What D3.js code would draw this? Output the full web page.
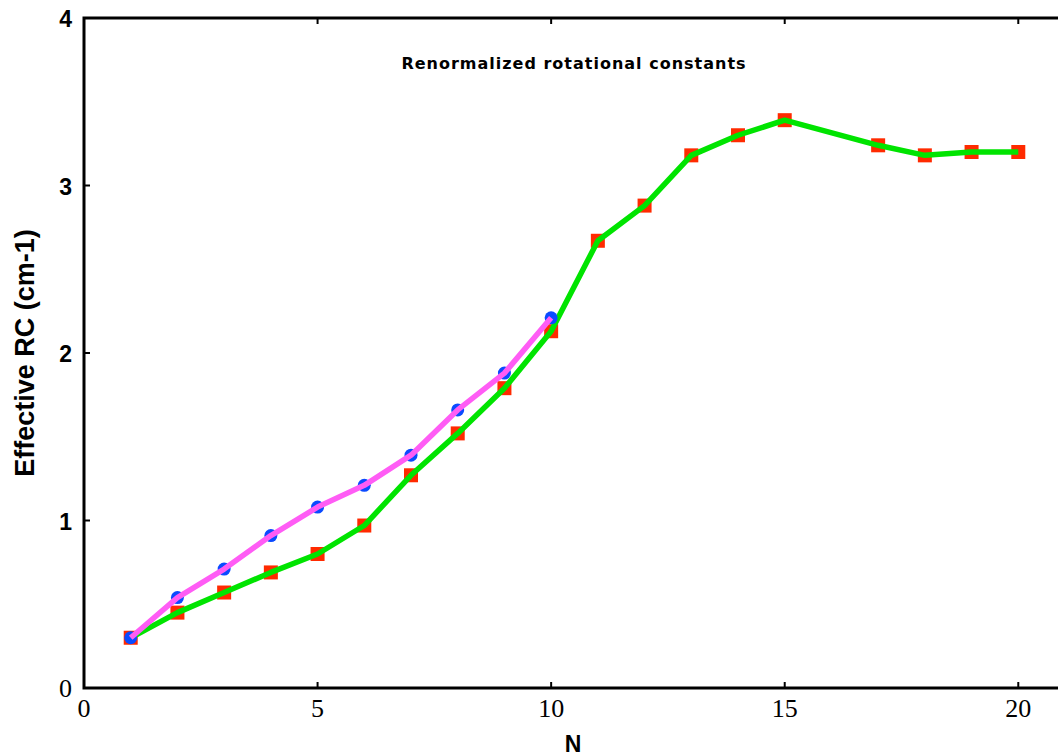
<!DOCTYPE html>
<html>
<head>
<meta charset="utf-8">
<script src="https://cdn.jsdelivr.net/npm/d3@7"></script>
<style>
  body { margin: 0; background: #fff; }
  svg { display: block; }
</style>
</head>
<body>
<div id="vis"></div>
<script>
const title = "Renormalized rotational constants";
const xLabel = "N";
const yLabel = "Effective RC (cm-1)";

// magenta line, blue dots
const nA = [1, 2, 3, 4, 5, 6, 7, 8, 9, 10];
const rcA = [0.30, 0.54, 0.71, 0.91, 1.08, 1.21, 1.39, 1.66, 1.88, 2.21];

// green line, red squares (no N=16)
const nB = [1, 2, 3, 4, 5, 6, 7, 8, 9, 10, 11, 12, 13, 14, 15, 17, 18, 19, 20];
const rcB = [0.30, 0.45, 0.57, 0.69, 0.80, 0.97, 1.27, 1.52, 1.79, 2.13, 2.67, 2.88, 3.18, 3.30, 3.39, 3.24, 3.18, 3.20, 3.20];

const xTicks = [0, 5, 10, 15, 20];
const yTicks = [0, 1, 2, 3, 4];

const width = 1058, height = 756;
const margin = { left: 84, top: 18, right: -7, bottom: 68 };

const svg = d3.select("#vis").append("svg")
    .attr("width", width)
    .attr("height", height);

const xScale = d3.scaleLinear()
    .domain([0, 21])
    .range([margin.left, width - margin.right]);

const yScale = d3.scaleLinear()
    .domain([0, 4])
    .range([height - margin.bottom, margin.top]);

const x0 = xScale.range()[0], x1 = xScale.range()[1];
const y0 = yScale.range()[0], y1 = yScale.range()[1];

// frame
svg.append("rect")
    .attr("x", x0).attr("y", y1)
    .attr("width", x1 - x0).attr("height", y0 - y1)
    .attr("fill", "none")
    .attr("stroke", "#000")
    .attr("stroke-width", 3);

const tickLen = 6;

// x ticks (bottom and top, inward)
svg.selectAll(".xtick-b")
    .data(xTicks.filter(d => d > 0))
    .join("line")
        .attr("x1", d => xScale(d)).attr("x2", d => xScale(d))
        .attr("y1", y0).attr("y2", y0 - tickLen)
        .attr("stroke", "#000").attr("stroke-width", 2);

svg.selectAll(".xtick-t")
    .data(xTicks.filter(d => d > 0))
    .join("line")
        .attr("x1", d => xScale(d)).attr("x2", d => xScale(d))
        .attr("y1", y1).attr("y2", y1 + tickLen)
        .attr("stroke", "#000").attr("stroke-width", 2);

// y ticks (left and right, inward)
svg.selectAll(".ytick-l")
    .data(yTicks.filter(d => d > 0 && d < 4))
    .join("line")
        .attr("x1", x0).attr("x2", x0 + tickLen)
        .attr("y1", d => yScale(d)).attr("y2", d => yScale(d))
        .attr("stroke", "#000").attr("stroke-width", 2);

svg.selectAll(".ytick-r")
    .data(yTicks.filter(d => d > 0 && d < 4))
    .join("line")
        .attr("x1", x1).attr("x2", x1 - tickLen)
        .attr("y1", d => yScale(d)).attr("y2", d => yScale(d))
        .attr("stroke", "#000").attr("stroke-width", 2);

// tick labels
svg.selectAll(".xlab")
    .data(xTicks)
    .join("text")
        .attr("x", d => xScale(d))
        .attr("y", y0 + 29)
        .attr("text-anchor", "middle")
        .style("font-family", "'Liberation Serif', serif")
        .style("font-size", "26px")
        .text(d => d);

svg.selectAll(".ylab")
    .data(yTicks)
    .join("text")
        .attr("x", 72)
        .attr("y", d => yScale(d) + 9)
        .attr("text-anchor", "end")
        .style("font-family", d => d === 0 ? "'Liberation Serif', serif" : "'Liberation Sans', sans-serif")
        .style("font-size", d => d === 0 ? "26px" : "23px")
        .style("font-weight", d => d === 0 ? 400 : 700)
        .text(d => d);

// axis titles
svg.append("text")
    .attr("x", 573)
    .attr("y", 752)
    .attr("text-anchor", "middle")
    .style("font-family", "'Liberation Sans', sans-serif")
    .style("font-size", "23px")
    .style("font-weight", 700)
    .text(xLabel);

svg.append("text")
    .attr("transform", `translate(34, ${yScale(2)}) rotate(-90)`)
    .attr("text-anchor", "middle")
    .style("font-family", "'Liberation Sans', sans-serif")
    .style("font-size", "27px")
    .style("font-weight", 700)
    .text(yLabel);

svg.append("text")
    .attr("x", 574)
    .attr("y", 69)
    .attr("text-anchor", "middle")
    .style("font-family", "'DejaVu Sans', sans-serif")
    .style("font-size", "16px")
    .style("font-weight", 700)
    .style("letter-spacing", "1px")
    .text(title);

// series
const dataA = nA.map((n, i) => ({ n, v: rcA[i] }));
const dataB = nB.map((n, i) => ({ n, v: rcB[i] }));

const line = d3.line()
    .x(d => xScale(d.n))
    .y(d => yScale(d.v));

svg.selectAll(".sq")
    .data(dataB)
    .join("rect")
        .attr("x", d => xScale(d.n) - 7)
        .attr("y", d => yScale(d.v) - 7)
        .attr("width", 14).attr("height", 14)
        .attr("fill", "#ff2a00");

svg.append("path")
    .datum(dataB)
    .attr("d", line)
    .attr("fill", "none")
    .attr("stroke", "#00e400")
    .attr("stroke-width", 5.5)
    .attr("stroke-linejoin", "round");

svg.selectAll(".dot")
    .data(dataA)
    .join("circle")
        .attr("cx", d => xScale(d.n))
        .attr("cy", d => yScale(d.v))
        .attr("r", 6.5)
        .attr("fill", "#0a4aff");

svg.append("path")
    .datum(dataA)
    .attr("d", line)
    .attr("fill", "none")
    .attr("stroke", "#ff5cf5")
    .attr("stroke-width", 5.5)
    .attr("stroke-linejoin", "round");
</script>
</body>
</html>
